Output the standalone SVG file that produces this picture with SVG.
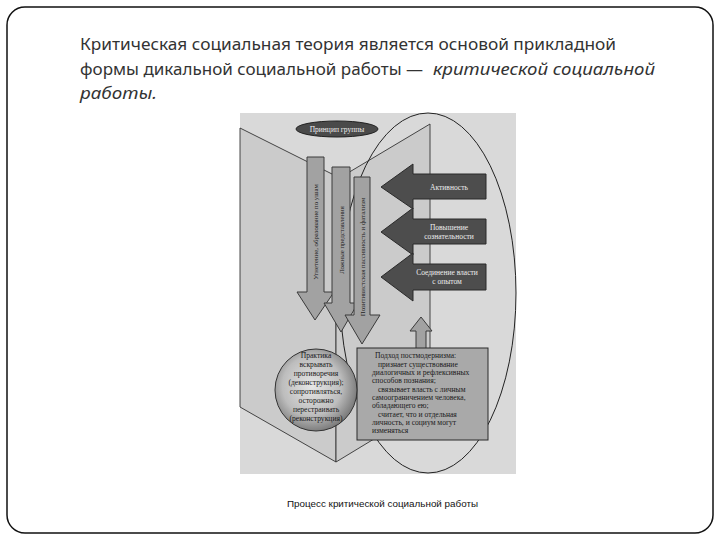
<svg xmlns="http://www.w3.org/2000/svg" width="720" height="540" viewBox="0 0 720 540">
<defs>
<style>
.title{font-family:"Noto Sans","Open Sans","Liberation Sans",sans-serif;font-size:17px;fill:#333}
.it{font-style:italic}
.cap{font-family:"Liberation Sans",Arial,sans-serif;font-size:9.5px;fill:#111}
.panel{fill:#cbcbcb;stroke:#333;stroke-width:0.9}
.varr{fill:#a2a2a2;stroke:#3a3a3a;stroke-width:1}
.harr{fill:#4d4d4d;stroke:#2a2a2a;stroke-width:1}
.vt{font-family:"Liberation Serif","Times New Roman",serif;font-size:6.8px;fill:#222;text-anchor:middle}
.ht{font-family:"Liberation Serif","Times New Roman",serif;font-size:7.5px;fill:#eee;text-anchor:middle}
.bt{font-family:"Liberation Serif","Times New Roman",serif;font-size:7.6px;fill:#1a1a1a}
.ct{font-family:"Liberation Serif","Times New Roman",serif;font-size:7.6px;fill:#1a1a1a;text-anchor:middle}
</style>
<radialGradient id="ball" cx="0.45" cy="0.45" r="0.6">
<stop offset="0" stop-color="#e6e6e6"/>
<stop offset="0.6" stop-color="#bdbdbd"/>
<stop offset="1" stop-color="#6e6e6e"/>
</radialGradient>
</defs>
<rect x="7" y="7" width="706" height="526" rx="18" ry="18" fill="#fff" stroke="#111" stroke-width="1.5"/>
<g id="title">
<text class="title" x="80" y="50" textLength="536" lengthAdjust="spacingAndGlyphs">Критическая социальная теория является основой прикладной</text>
<text class="title" x="80" y="75" textLength="343" lengthAdjust="spacingAndGlyphs">формы дикальной социальной работы —</text>
<text class="title it" x="433" y="75" textLength="222" lengthAdjust="spacingAndGlyphs">критической социальной</text>
<text class="title it" x="80" y="99" textLength="77" lengthAdjust="spacingAndGlyphs">работы.</text>
</g>
<g id="figure">
<rect x="240" y="113" width="276" height="361" fill="#d9d9d9"/>
<polygon class="panel" points="240,128 336,176 336,462 240,407"/>
<polygon class="panel" points="336,180 430,124 430,405 336,462"/>
<ellipse cx="428" cy="293" rx="88" ry="180" fill="none" stroke="#222" stroke-width="1"/>
</g>
<g id="group-principle">
<ellipse cx="337" cy="129" rx="41" ry="8" fill="#4a4a4a" stroke="#222" stroke-width="1"/>
<text class="ht" x="337" y="132" font-size="7.5">Принцип группы</text>
</g>
<g id="connectors">
<g id="arrow-oppression">
<path class="varr" d="M307,157 H324 V292 H334 L315,320 L297,292 H307 Z"/>
<text class="vt" transform="translate(318,232) rotate(-90)">Угнетение, образование по ушам</text>
</g>
<g id="arrow-false">
<path class="varr" d="M332,167 H350 V303 H358 L341,332 L324,303 H332 Z"/>
<text class="vt" transform="translate(344,240) rotate(-90)">Ложные представления</text>
</g>
<g id="arrow-passive">
<path class="varr" d="M354,177 H370 V315 H380 L362,344 L345,315 H354 Z"/>
<text class="vt" transform="translate(365,257) rotate(-90)">Позитивистская пассивность и фатализм</text>
</g>
<g id="arrow-activity">
<path class="harr" d="M486,174 V199 H413 V209 L381,187 L413,164 V174 Z"/>
<text class="ht" x="449" y="190">Активность</text>
</g>
<g id="arrow-awareness">
<path class="harr" d="M486,219 V244 H413 V255 L381,232 L413,208 V219 Z"/>
<text class="ht" x="449" y="230">Повышение</text>
<text class="ht" x="449" y="239">сознательности</text>
</g>
<g id="arrow-power">
<path class="harr" d="M486,264 V290 H413 V301 L381,277 L413,253 V264 Z"/>
<text class="ht" x="447" y="275">Соединение власти</text>
<text class="ht" x="447" y="284">с опытом</text>
</g>
<g id="arrow-up">
<path class="varr" d="M416,350 V331 H410 L421,317 L432,331 H426 V350 Z"/>
</g>
</g>
<g id="postmodern-box">
<rect x="357" y="348" width="131" height="92" fill="#a9a9a9" stroke="#2a2a2a" stroke-width="1"/>
<text class="bt" x="375" y="358">Подход постмодернизма:</text>
<text class="bt" x="378" y="367">признает существование</text>
<text class="bt" x="372" y="375">диалогичных и рефлексивных</text>
<text class="bt" x="372" y="383">способов познания;</text>
<text class="bt" x="378" y="392">связывает власть с личным</text>
<text class="bt" x="372" y="400">самоограничением человека,</text>
<text class="bt" x="372" y="408">обладающего ею;</text>
<text class="bt" x="378" y="417">считает, что и отдельная</text>
<text class="bt" x="372" y="425">личность, и социум могут</text>
<text class="bt" x="372" y="433">изменяться</text>
</g>
<g id="practice-circle">
<circle cx="316" cy="390" r="41" fill="url(#ball)" stroke="#333" stroke-width="1"/>
<text class="ct" x="316" y="358">Практика</text>
<text class="ct" x="316" y="367">вскрывать</text>
<text class="ct" x="316" y="376">противоречия</text>
<text class="ct" x="316" y="385">(деконструкция);</text>
<text class="ct" x="316" y="394">сопротивляться,</text>
<text class="ct" x="316" y="403">осторожно</text>
<text class="ct" x="316" y="412">перестраивать</text>
<text class="ct" x="316" y="421">(реконструкция)</text>
</g>
<text class="cap" x="287" y="507" textLength="191" lengthAdjust="spacingAndGlyphs">Процесс критической социальной работы</text>
</svg>
